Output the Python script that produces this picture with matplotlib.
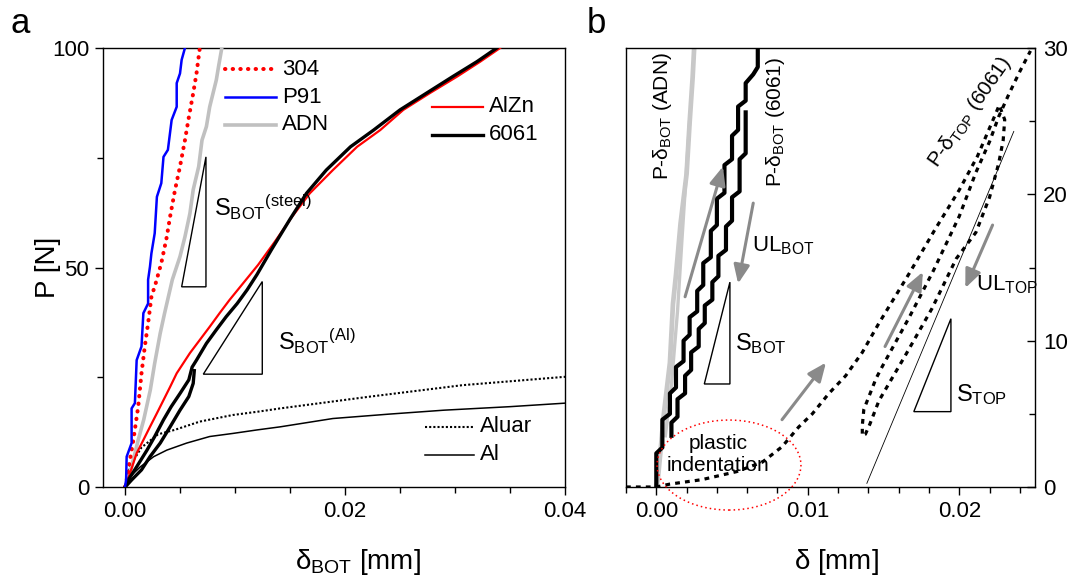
import matplotlib
matplotlib.use("Agg")
import matplotlib.pyplot as plt
from matplotlib.lines import Line2D
from matplotlib.patches import Ellipse, Polygon
from matplotlib.ticker import MultipleLocator

plt.rcParams.update({
    "font.family": ["Liberation Sans", "DejaVu Sans"],
    "mathtext.fontset": "custom",
    "mathtext.rm": "Liberation Sans",
    "mathtext.it": "Liberation Sans:italic",
    "mathtext.bf": "Liberation Sans:bold",
    "axes.linewidth": 1.0,
})

# ---- panel a: P vs delta_BOT, steels ----
p91_x = [0, 0.0001, 0.00015, 0.0006, 0.0006, 0.0009, 0.00106, 0.0015, 0.00167, 0.0021, 0.0021,
         0.00227, 0.0024, 0.0027, 0.0029, 0.0033, 0.0035, 0.0039, 0.00424, 0.0047, 0.0047, 0.0050,
         0.00515, 0.00545]
p91_p = [0, 1.6, 6.9, 10.0, 17.9, 19.1, 28.9, 32.0, 39.6, 41.8, 47.2,
         50.2, 53.2, 57.8, 66.1, 69.2, 75.2, 76.8, 83.6, 86.6, 92.0, 94.2,
         97.3, 100]

s304_x = [0, 0.0001, 0.00045, 0.00076, 0.0012, 0.0015, 0.0018, 0.0021, 0.0024, 0.0028, 0.0033,
          0.0038, 0.0041, 0.00455, 0.0050, 0.00545, 0.00576, 0.0062, 0.0065, 0.0068]
s304_p = [0, 0.8, 6.2, 10.7, 18.3, 25.9, 32.0, 37.3, 43.3, 46.5, 51.0,
          57.0, 61.6, 67.7, 73.0, 79.0, 83.6, 89.7, 94.2, 100]

adn_x = [0, 0.00015, 0.0006, 0.0012, 0.0017, 0.0023, 0.0027, 0.0032, 0.0036, 0.0043, 0.0050,
         0.00545, 0.0059, 0.0062, 0.0067, 0.0070, 0.0074, 0.0077, 0.0083, 0.0085, 0.0088]
adn_p = [0, 0.8, 4.6, 10.7, 15.3, 22.1, 28.2, 35.0, 39.6, 47.2, 52.5,
         57.0, 62.3, 67.7, 73.0, 79.0, 82.1, 86.6, 92.7, 95.7, 100]

# ---- panel a: aluminium alloys ----
alzn_x = [0, 0.00045, 0.00106, 0.00167, 0.00227, 0.0029, 0.0035, 0.0041, 0.0047, 0.0053, 0.0059,
          0.0068, 0.0077, 0.0086, 0.0095, 0.0108, 0.0121, 0.0136, 0.0152, 0.0168, 0.0189, 0.0211,
          0.0232, 0.0253, 0.0277, 0.0302, 0.0323, 0.0341]
alzn_p = [0, 3.1, 7.7, 10.7, 13.7, 16.8, 19.8, 22.8, 25.9, 28.2, 30.5,
          33.5, 36.5, 39.6, 42.6, 46.6, 50.6, 55.8, 61.6, 66.9, 72.2, 77.5,
          81.3, 85.9, 89.7, 93.5, 96.9, 100]

a6061_x = [0, 0.0003, 0.00106, 0.0020, 0.0027, 0.0035, 0.0042, 0.0050, 0.0058, 0.0061, 0.0065,
           0.0074, 0.0083, 0.0092, 0.0102, 0.0111, 0.0120, 0.0133, 0.0150, 0.0165, 0.0183, 0.0205,
           0.0226, 0.0250, 0.0274, 0.0298, 0.0320, 0.0338]
a6061_p = [0, 1.6, 4.6, 8.4, 11.5, 15.3, 18.3, 21.3, 24.4, 27.3, 28.9,
           32.7, 35.8, 38.8, 41.8, 44.9, 48.4, 54.0, 61.0, 66.9, 72.2, 77.5,
           81.3, 85.9, 89.7, 93.5, 96.9, 100]
a6061_ul_x = [0.0063, 0.0062, 0.0058, 0.0050, 0.0041, 0.0032, 0.00227, 0.0015, 0.0006, 0.0002]
a6061_ul_p = [26.5, 23.6, 20.6, 17.5, 13.7, 10.0, 6.9, 3.9, 1.6, 0.5]

aluar_x = [0, 0.0005, 0.0015, 0.0030, 0.0045, 0.0068, 0.0098, 0.0122, 0.0141, 0.0223, 0.0307, 0.0400]
aluar_p = [0, 5.0, 9.0, 12.0, 13.0, 14.9, 16.4, 17.2, 17.9, 20.6, 23.2, 25.1]

al_x = [0, 0.00015, 0.0014, 0.0026, 0.0038, 0.0056, 0.0077, 0.0098, 0.0120, 0.0141, 0.0189,
        0.0240, 0.0290, 0.0350, 0.0400]
al_p = [0, 1.6, 4.6, 6.9, 8.4, 10.0, 11.5, 12.2, 13.0, 13.7, 15.6,
        16.6, 17.5, 18.3, 19.1]

# stiffness triangles (x0, x1, p0, p1)
tri_steel = (0.00515, 0.00736, 45.6, 75.2)
tri_al = (0.00712, 0.01248, 25.7, 46.8)

# ---- panel b: cyclic test on 6061 and ADN ----
bot_load_x = [0.0, 0.0, 0.0004, 0.0004, 0.0009, 0.0009, 0.0013, 0.0013, 0.0018, 0.0018, 0.0022,
              0.0022, 0.0027, 0.0027, 0.0031, 0.0031, 0.0036, 0.0036, 0.0040, 0.0040, 0.0045,
              0.0045, 0.0050, 0.0050, 0.0054, 0.0054, 0.0059, 0.0059, 0.0064, 0.0067, 0.0067]
bot_load_p = [0.0, 2.3, 2.7, 4.6, 5.0, 6.4, 6.8, 8.2, 8.6, 10.0, 10.4,
              11.6, 12.0, 13.4, 13.8, 15.3, 15.7, 17.5, 17.9, 19.7, 20.1,
              22.0, 22.4, 24.0, 24.4, 26.0, 26.4, 27.6, 28.2, 28.7, 30.0]
bot_ul_x = [0.0010, 0.0010, 0.0014, 0.0014, 0.0019, 0.0019, 0.0023, 0.0023, 0.0028, 0.0028, 0.0032,
            0.0032, 0.0037, 0.0037, 0.0041, 0.0041, 0.0046, 0.0046, 0.0050, 0.0050, 0.0055,
            0.0055, 0.0059, 0.0059]
bot_ul_p = [3.5, 4.4, 4.8, 6.0, 6.4, 7.6, 8.0, 9.2, 9.6, 10.8, 11.2,
            12.4, 12.8, 14.0, 14.4, 15.8, 16.2, 17.8, 18.2, 19.8, 20.2,
            22.4, 22.8, 25.6]

adn_b_x = [0, 0.0001, 0.0003, 0.0005, 0.0009, 0.0011, 0.0013, 0.0016, 0.0020, 0.0022, 0.0024, 0.0025]
adn_b_p = [0, 0.5, 2.7, 5.0, 8.5, 12.5, 14.5, 18.0, 21.4, 24.9, 28.0, 30.0]
adn_b_ul_x = [0.0022, 0.0017, 0.0014, 0.0010, 0.0006]
adn_b_ul_p = [25.0, 17.0, 12.0, 7.0, 3.5]

top_x = [-0.002, 0.0, 0.0009, 0.0030, 0.0053, 0.0070, 0.0083, 0.0094, 0.0103, 0.0114, 0.0125,
         0.0136, 0.0147, 0.0167, 0.0184, 0.0200, 0.0212, 0.0224, 0.02264,
         0.0230, 0.0229, 0.0226, 0.0220, 0.0211, 0.0198, 0.0182, 0.0165, 0.0147, 0.0141, 0.0138,
         0.0136, 0.0136, 0.0137, 0.0145, 0.0149, 0.0167, 0.0183, 0.0200, 0.0211, 0.0220, 0.0226,
         0.0233, 0.0240, 0.0247]
top_p = [0.0, 0.0, 0.2, 0.5, 1.05, 1.7, 2.75, 4.1, 5.0, 6.4, 7.6,
         9.2, 11.2, 14.6, 17.6, 20.3, 22.6, 25.5, 26.1,
         25.1, 23.7, 22.1, 19.8, 17.4, 15.6, 12.2, 9.1, 5.9, 4.3, 3.6,
         3.5, 4.2, 5.3, 7.4, 8.2, 11.6, 14.8, 18.5, 21.5, 23.6, 25.3,
         26.9, 28.4, 29.8]

s_top_line_x = [0.0139, 0.0236]
s_top_line_p = [0.25, 24.3]

tri_bot = (0.00317, 0.00486, 7.04, 14.0)
tri_top = (0.0170, 0.01945, 5.15, 11.5)

# arrows: (tail, head)
arrows_b = [
    ((0.0019, 13.0), (0.0044, 21.9)),
    ((0.0064, 19.4), (0.0054, 13.9)),
    ((0.0083, 4.6), (0.0112, 8.5)),
    ((0.0151, 9.6), (0.0176, 14.7)),
    ((0.0222, 17.9), (0.0204, 13.6)),
]

FIG_W, FIG_H = 1070, 577
fig = plt.figure(figsize=(FIG_W / 100, FIG_H / 100), dpi=100)
ax_a = fig.add_axes([103 / FIG_W, 1 - 487 / FIG_H, 462 / FIG_W, 439 / FIG_H])
ax_b = fig.add_axes([626 / FIG_W, 1 - 487 / FIG_H, 409 / FIG_W, 439 / FIG_H])

RED, BLUE, GREY = "#ff0000", "#0000ff", "#c0c0c0"
DOTS = (0, (0.1, 1.8))
TICK_SIZE = 16


def triangle(ax, tri, **kw):
    x0, x1, p0, p1 = tri
    ax.add_patch(Polygon([(x0, p0), (x1, p0), (x1, p1)], closed=True, fill=False,
                         ec="black", lw=1.0, **kw))


def legend_rows(ax, x0, x1, ys, rows, size=16):
    for y, (label, style) in zip(ys, rows):
        ax.add_line(Line2D([x0, x1], [y, y], transform=ax.transAxes, **style))
        ax.text(x1 + 0.013, y, label, transform=ax.transAxes, va="center", ha="left",
                fontsize=size)


# ---------------- panel a ----------------
st_adn = dict(color=GREY, lw=2.6)
st_304 = dict(color=RED, lw=2.9, ls=DOTS, dash_capstyle="round")
st_p91 = dict(color=BLUE, lw=1.8)
st_alzn = dict(color=RED, lw=1.6)
st_6061 = dict(color="black", lw=2.4)
st_aluar = dict(color="black", lw=1.5, ls=(0, (1.0, 1.0)))
st_al = dict(color="black", lw=1.1)

ax_a.plot(aluar_x, aluar_p, **st_aluar, zorder=2)
ax_a.plot(al_x, al_p, **st_al, zorder=2)
ax_a.plot(adn_x, adn_p, **st_adn, zorder=3)
ax_a.plot(s304_x, s304_p, **st_304, zorder=4)
ax_a.plot(p91_x, p91_p, **st_p91, zorder=5)
ax_a.plot(alzn_x, alzn_p, **st_alzn, zorder=3)
ax_a.plot(a6061_x, a6061_p, **st_6061, zorder=4)
ax_a.plot(a6061_ul_x, a6061_ul_p, **st_6061, zorder=4)

triangle(ax_a, tri_steel)
triangle(ax_a, tri_al)
ax_a.text(0.0081, 63.6, r"S$_{\mathrm{BOT}}{}^{\mathrm{(steel)}}$", fontsize=17,
          va="center", ha="left")
ax_a.text(0.0139, 33.1, r"S$_{\mathrm{BOT}}{}^{\mathrm{(Al)}}$", fontsize=17,
          va="center", ha="left")

legend_rows(ax_a, 0.264, 0.374, [0.952, 0.888, 0.825],
            [("304", st_304), ("P91", st_p91), ("ADN", st_adn)])
legend_rows(ax_a, 0.712, 0.823, [0.866, 0.802],
            [("AlZn", st_alzn), ("6061", st_6061)])
legend_rows(ax_a, 0.697, 0.803, [0.137, 0.073],
            [("Aluar", st_aluar), ("Al", st_al)])

ax_a.set_xlim(-0.002, 0.04)
ax_a.set_ylim(0, 100)
ax_a.set_xticks([0, 0.02, 0.04], ["0.00", "0.02", "0.04"])
ax_a.set_yticks([0, 50, 100])
ax_a.xaxis.set_minor_locator(MultipleLocator(0.005))
ax_a.yaxis.set_minor_locator(MultipleLocator(25))
ax_a.tick_params(which="both", direction="out", labelsize=TICK_SIZE, width=1.0, pad=4)
ax_a.tick_params(which="major", length=6)
ax_a.tick_params(which="minor", length=4)
ax_a.text(0.552, -0.187, r"$\mathrm{δ_{BOT}}$ [mm]", transform=ax_a.transAxes,
          ha="center", va="baseline", fontsize=20)
ax_a.text(-0.119, 0.5, "P [N]", transform=ax_a.transAxes, rotation=90,
          ha="center", va="center", fontsize=20)

# ---------------- panel b ----------------
ax_b.plot(s_top_line_x, s_top_line_p, color="black", lw=0.6, zorder=2)
ax_b.plot(adn_b_x, adn_b_p, color="#c8c8c8", lw=3.4, zorder=2)
ax_b.plot(adn_b_ul_x, adn_b_ul_p, color="#c8c8c8", lw=2.4, zorder=2)
ax_b.plot(bot_load_x, bot_load_p, color="black", lw=3.0, zorder=3)
ax_b.plot(bot_ul_x, bot_ul_p, color="black", lw=3.0, zorder=3)
ax_b.plot(top_x, top_p, color="black", lw=2.3, ls=(0, (1.5, 1.6)), zorder=3)

triangle(ax_b, tri_bot)
triangle(ax_b, tri_top)

for tail, head in arrows_b:
    ax_b.annotate("", xy=head, xytext=tail,
                  arrowprops=dict(arrowstyle="-|>,head_length=0.7,head_width=0.3",
                                  color="#8a8a8a", lw=2.2, mutation_scale=16,
                                  shrinkA=0, shrinkB=0))

ax_b.add_patch(Ellipse((0.0048, 1.5), width=0.0095, height=6.15, fill=False, ec=RED,
                       lw=1.1, ls=(0, (1, 2)), clip_on=False, zorder=4))
ax_b.text(0.0041, 2.25, "plastic\nindentation", fontsize=15, ha="center", va="center",
          linespacing=1.2, zorder=5)

ax_b.text(0.0004, 21.0, r"P-$\mathrm{δ_{BOT}}$ (ADN)", rotation=90, fontsize=15,
          ha="center", va="bottom")
ax_b.text(0.0079, 20.5, r"P-$\mathrm{δ_{BOT}}$ (6061)", rotation=90, fontsize=15,
          ha="center", va="bottom")
ax_b.text(0.0207, 25.6, r"P-$\mathrm{δ_{TOP}}$ (6061)", rotation=55, fontsize=15,
          ha="center", va="center", rotation_mode="anchor")
ax_b.text(0.0063, 16.5, r"UL$_{\mathrm{BOT}}$", fontsize=16, ha="left", va="center")
ax_b.text(0.0211, 13.8, r"UL$_{\mathrm{TOP}}$", fontsize=16, ha="left", va="center")
ax_b.text(0.0052, 9.8, r"S$_{\mathrm{BOT}}$", fontsize=17, ha="left", va="center")
ax_b.text(0.0198, 6.3, r"S$_{\mathrm{TOP}}$", fontsize=17, ha="left", va="center")

ax_b.set_xlim(-0.002, 0.025)
ax_b.set_ylim(0, 30)
ax_b.set_xticks([0, 0.01, 0.02], ["0.00", "0.01", "0.02"])
ax_b.set_yticks([0, 10, 20, 30])
ax_b.xaxis.set_minor_locator(MultipleLocator(0.002))
ax_b.yaxis.set_minor_locator(MultipleLocator(5))
ax_b.yaxis.tick_right()
ax_b.tick_params(axis="x", which="both", direction="out", labelsize=TICK_SIZE, width=1.0, pad=4)
ax_b.tick_params(axis="x", which="major", length=6)
ax_b.tick_params(axis="x", which="minor", length=4)
ax_b.tick_params(axis="y", which="both", direction="in", labelsize=TICK_SIZE, width=1.0, pad=6,
                 left=False, right=True)
ax_b.tick_params(axis="y", which="major", length=6)
ax_b.tick_params(axis="y", which="minor", length=4)
ax_b.text(0.5146, -0.187, r"$\mathrm{δ}$ [mm]", transform=ax_b.transAxes,
          ha="center", va="baseline", fontsize=20)

fig.text(11 / FIG_W, 1 - 33 / FIG_H, "a", fontsize=25, ha="left", va="baseline")
fig.text(587 / FIG_W, 1 - 33 / FIG_H, "b", fontsize=25, ha="left", va="baseline")

fig.savefig("out.png", dpi=100)
